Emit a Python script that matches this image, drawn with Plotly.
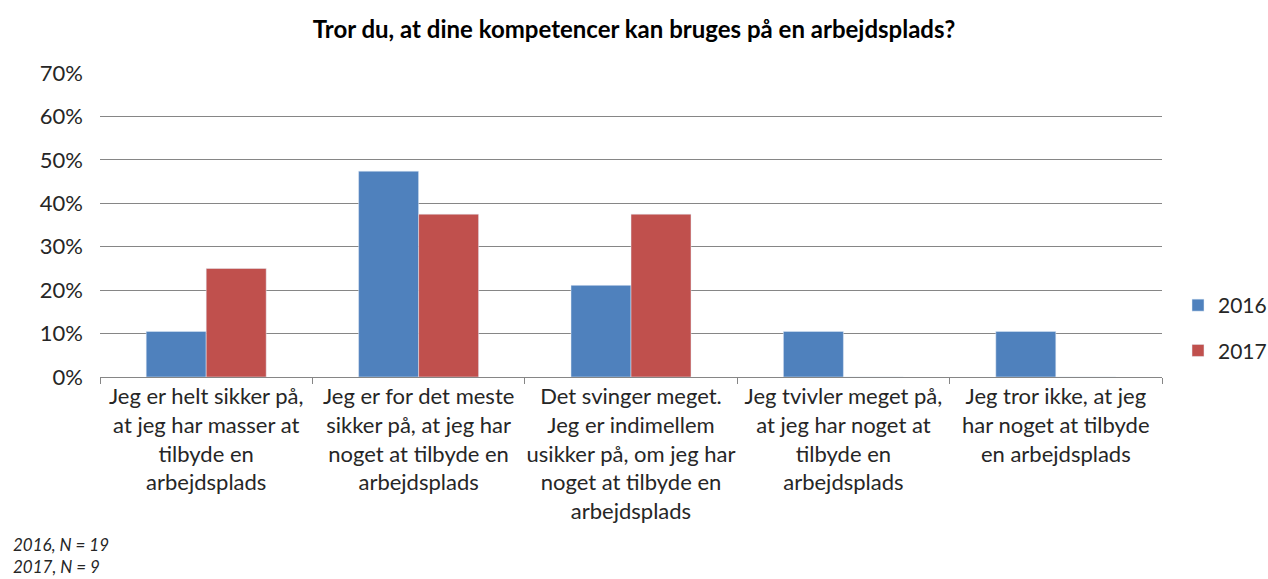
import plotly.graph_objects as go

categories = [
    "Jeg er helt sikker på,<br>at jeg har masser at<br>tilbyde en<br>arbejdsplads",
    "Jeg er for det meste<br>sikker på, at jeg har<br>noget at tilbyde en<br>arbejdsplads",
    "Det svinger meget.<br>Jeg er indimellem<br>usikker på, om jeg har<br>noget at tilbyde en<br>arbejdsplads",
    "Jeg tvivler meget på,<br>at jeg har noget at<br>tilbyde en<br>arbejdsplads",
    "Jeg tror ikke, at jeg<br>har noget at tilbyde<br>en arbejdsplads",
]
cat_ids = ["c1", "c2", "c3", "c4", "c5"]
values_2016 = [0.105, 0.474, 0.211, 0.105, 0.105]
values_2017 = [0.25, 0.375, 0.375, 0.0, 0.0]
y_ticks = [0, 0.1, 0.2, 0.3, 0.4, 0.5, 0.6, 0.7]
y_labels = ["0%", "10%", "20%", "30%", "40%", "50%", "60%", "70%"]

FONT = "Lato, Open Sans, sans-serif"
W, H = 1268, 579
L, T = 100, 73
R = W - 1162
B = H - 377
PW = W - L - R
PH = H - T - B

def px_x(page_x):
    return (page_x - L) / PW

def px_y(page_y):
    return 1 - (page_y - T) / PH

fig = go.Figure()
fig.add_trace(go.Bar(x=cat_ids, y=values_2016, name="2016", marker_color="#4F81BD",
                     legendgroup="a"))
fig.add_trace(go.Bar(x=cat_ids, y=values_2017, name="2017", marker_color="#C0504D",
                     legendgroup="b"))

fig.update_layout(
    width=W, height=H,
    margin=dict(l=L, r=R, t=T, b=B, autoexpand=False),
    paper_bgcolor="white", plot_bgcolor="white",
    font=dict(family=FONT, size=22, color="#262626"),
    title=dict(text="<b>Tror du, at dine kompetencer kan bruges på en arbejdsplads?</b>",
               x=0.5, xanchor="center", y=1 - 30 / H, yanchor="middle",
               font=dict(size=24, color="black")),
    barmode="group", bargap=0.435, bargroupgap=0,
    legend=dict(x=px_x(1178), xanchor="left", y=px_y(328), yanchor="middle",
                font=dict(size=21, color="#262626"), traceorder="grouped",
                tracegroupgap=15, bgcolor="rgba(0,0,0,0)", borderwidth=0),
    xaxis=dict(tickmode="array", tickvals=cat_ids, ticktext=categories,
               tickangle=0,
               showline=True, linecolor="#868686", linewidth=1,
               ticks="outside", tickson="boundaries", ticklen=6, tickcolor="#868686",
               tickfont=dict(size=22, color="#262626"), showgrid=False,
               automargin=False),
    yaxis=dict(range=[0, 0.7], tickvals=y_ticks, ticktext=y_labels,
               showgrid=True, gridcolor="#868686", gridwidth=1,
               zeroline=False, showline=False, ticks="",
               tickfont=dict(size=22, color="#262626"), ticklabelstandoff=16,
               automargin=False),
    annotations=[
        dict(text="<i>2016, N = 19</i><br><i>2017, N = 9</i>", xref="paper", yref="paper",
             x=px_x(11), y=px_y(579), xanchor="left", yanchor="bottom",
             align="left", showarrow=False, font=dict(size=17, color="#262626")),
    ],
)

fig.write_html(
    "out.html",
    config={"displayModeBar": False},
    post_script="document.body.style.margin='0';document.body.style.overflow='hidden';",
)
